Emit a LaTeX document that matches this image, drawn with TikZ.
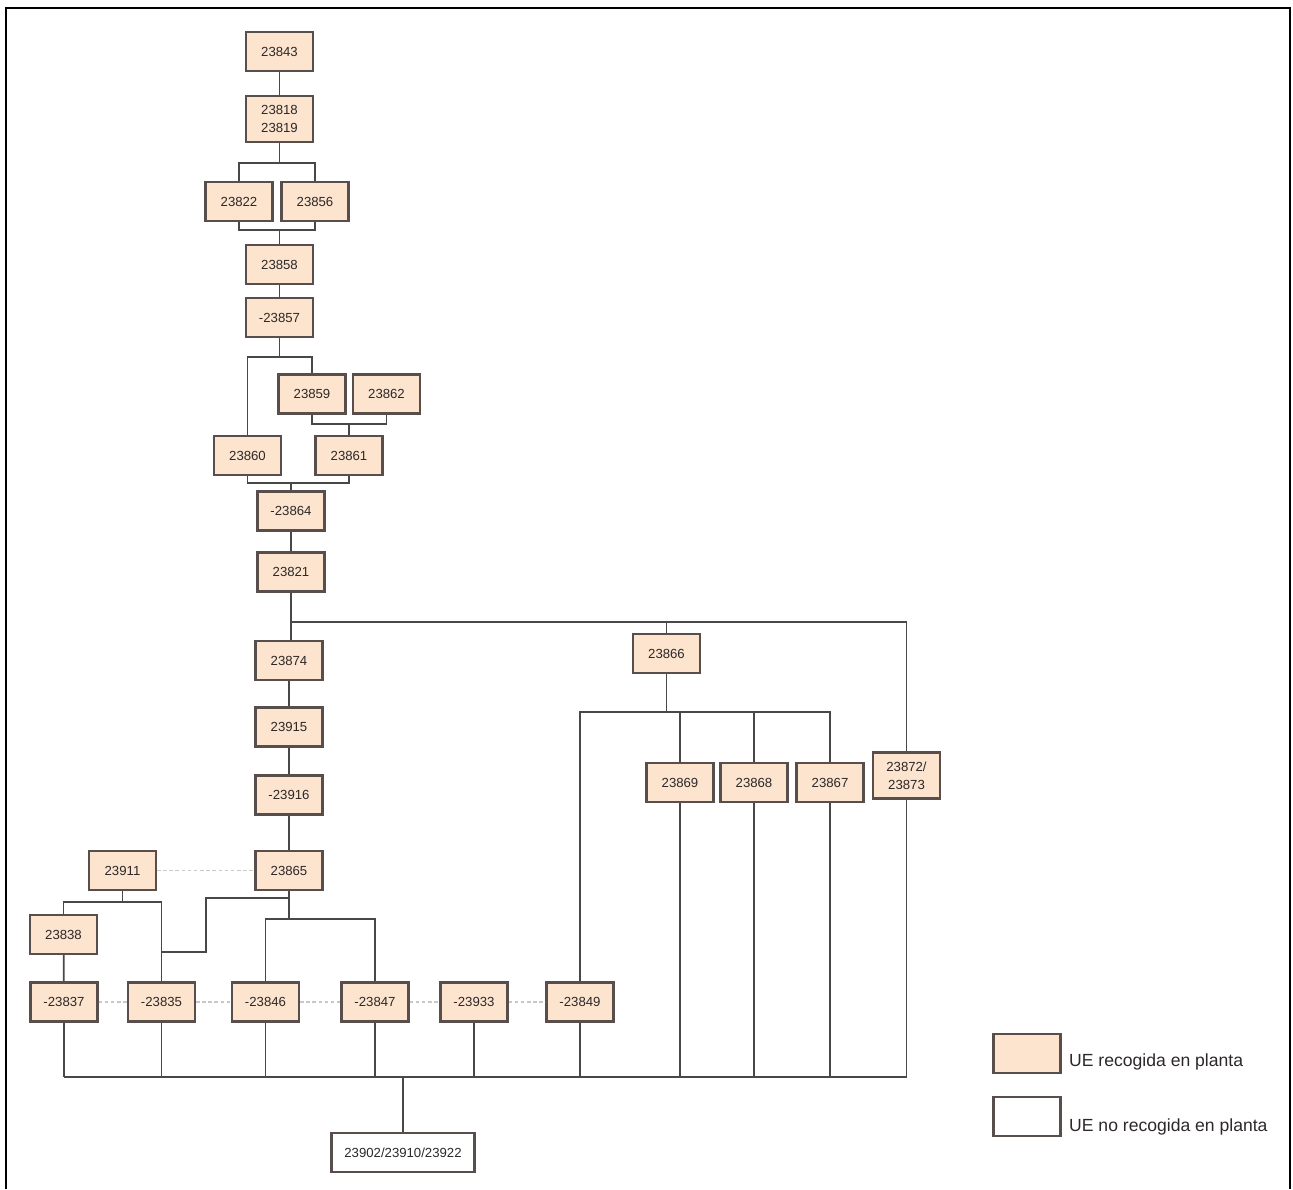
\documentclass[tikz,border=0pt]{standalone}
\usepackage{fontspec}
\setmainfont{Liberation Sans}
\begin{document}
\begin{tikzpicture}[x=0.02cm,y=-0.02cm,
  ue/.style={draw=boxline, line width=1.2pt, fill=uefill, text=txt,
    minimum width=1.34cm, minimum height=0.78cm, inner sep=0pt,
    align=center, font=\fontsize{7.5}{10}\selectfont},
  uetall/.style={ue, minimum height=0.92cm},
  uewhite/.style={ue, fill=white},
  link/.style={draw=linecol, line width=1pt},
  sameas/.style={draw=dotcol, line width=1pt, dash pattern=on 2pt off 1.5pt},
  legendtext/.style={anchor=west, text=txt, font=\fontsize{10}{12}\selectfont}
]
\definecolor{uefill}{RGB}{252,228,206}
\definecolor{boxline}{RGB}{88,78,76}
\definecolor{linecol}{RGB}{72,72,72}
\definecolor{dotcol}{RGB}{200,200,200}
\definecolor{txt}{RGB}{45,40,40}

\useasboundingbox (0,0) rectangle (1293,1189);
% outer frame
\draw[line width=1pt, black] (6,1189) -- (6,8) -- (1290,8) -- (1290,1189);

% upper column
\node[ue] (n23843) at (279.5,51.5) {23843};
\node[uetall] (n23818) at (279.5,119) {23818\\23819};
\node[ue] (n23822) at (239,201.5) {23822};
\node[ue] (n23856) at (315,201.5) {23856};
\node[ue] (n23858) at (279.5,264.5) {23858};
\node[ue] (n23857) at (279.5,317.5) {-23857};
\node[ue] (n23859) at (312,394) {23859};
\node[ue] (n23862) at (386.5,394) {23862};
\node[ue] (n23860) at (247.5,455.5) {23860};
\node[ue] (n23861) at (349,455.5) {23861};
\node[ue] (n23864) at (291,511) {-23864};
\node[ue] (n23821) at (291,572) {23821};

% lower column
\node[ue] (n23874) at (289,660.5) {23874};
\node[ue] (n23915) at (289,727) {23915};
\node[ue] (n23916) at (289,795) {-23916};
\node[ue] (n23865) at (289,870.5) {23865};
\node[ue] (n23911) at (122.5,870.5) {23911};
\node[ue] (n23838) at (63.5,934.5) {23838};

% right branch
\node[ue] (n23866) at (666.5,653.5) {23866};
\node[ue] (n23869) at (680,782.5) {23869};
\node[ue] (n23868) at (754,782.5) {23868};
\node[ue] (n23867) at (830,782.5) {23867};
\node[uetall] (n23872) at (906.5,775.5) {23872/\\23873};

% bottom row
\node[ue] (n23837) at (64,1002) {-23837};
\node[ue] (n23835) at (161.5,1002) {-23835};
\node[ue] (n23846) at (265.5,1002) {-23846};
\node[ue] (n23847) at (375,1002) {-23847};
\node[ue] (n23933) at (474,1002) {-23933};
\node[ue] (n23849) at (580,1002) {-23849};
\node[uewhite, minimum width=2.86cm] (n23902) at (403,1152.5) {23902/23910/23922};

% junction points
\coordinate (j1) at (279.5,163);
\coordinate (j2) at (279.5,230);
\coordinate (j3) at (279.5,357);
\coordinate (j4) at (349,424);
\coordinate (j5) at (291,483);
\coordinate (j6) at (291,622);
\coordinate (j7) at (906.5,622);
\coordinate (j8) at (666.5,712);
\coordinate (j9) at (122.5,902);
\coordinate (j10) at (289,898);
\coordinate (j11) at (289,919);
\coordinate (bus) at (403,1077);

% connectors, upper column
\draw[link] (n23843) -- (n23818);
\draw[link] (n23818.south) -- (j1);
\draw[link] (n23822.north) -- (n23822.north |- j1) -- (n23856.north |- j1) -- (n23856.north);
\draw[link] (n23822.south) -- (n23822.south |- j2) -- (n23856.south |- j2) -- (n23856.south);
\draw[link] (j2) -- (n23858.north);
\draw[link] (n23858) -- (n23857);
\draw[link] (n23857.south) -- (j3);
\draw[link] (n23860.north) -- (n23860.north |- j3) -- (n23859.north |- j3) -- (n23859.north);
\draw[link] (n23859.south) -- (n23859.south |- j4) -- (n23862.south |- j4) -- (n23862.south);
\draw[link] (j4) -- (n23861.north);
\draw[link] (n23860.south) -- (n23860.south |- j5) -- (n23861.south |- j5) -- (n23861.south);
\draw[link] (j5) -- (n23864.north);
\draw[link] (n23864) -- (n23821);

% main split below 23821
\draw[link] (n23821.south) -- (n23821.south |- n23874.north);
\draw[link] (j6) -- (j7) -- (n23872.north);
\draw[link] (n23866.north) -- (n23866.north |- j6);

% 23866 branch
\draw[link] (n23866.south) -- (j8);
\draw[link] (n23849.north) -- (n23849.north |- j8) -- (n23867.north |- j8) -- (n23867.north);
\draw[link] (n23869.north) -- (n23869.north |- j8);
\draw[link] (n23868.north) -- (n23868.north |- j8);

% lower column
\draw[link] (n23874) -- (n23915);
\draw[link] (n23915) -- (n23916);
\draw[link] (n23916) -- (n23865);

% 23911 branch
\draw[link] (n23911.south) -- (j9);
\draw[link] (n23838.north) -- (n23838.north |- j9) -- (n23835.north |- j9) -- (n23835.north);
\draw[link] (n23838) -- (n23837);

% 23865 branches
\draw[link] (n23865.south) -- (j11);
\draw[link] (j10) -- (206,898) -- (206,952) -- (n23835.north |- 0,952);
\draw[link] (n23846.north) -- (n23846.north |- j11) -- (n23847.north |- j11) -- (n23847.north);

% equivalence (dotted) links
\draw[sameas] (n23911) -- (n23865);
\draw[sameas] (n23837) -- (n23835);
\draw[sameas] (n23835) -- (n23846);
\draw[sameas] (n23846) -- (n23847);
\draw[sameas] (n23847) -- (n23933);
\draw[sameas] (n23933) -- (n23849);

% bottom bus
\draw[link] (n23837.south |- bus) -- (n23872.south |- bus);
\foreach \n in {n23837,n23835,n23846,n23847,n23933,n23849,n23869,n23868,n23867,n23872}
  \draw[link] (\n.south) -- (\n.south |- bus);
\draw[link] (bus) -- (n23902.north);

% legend
\node[ue] (legA) at (1027,1053.5) {};
\node[uewhite] (legB) at (1027,1116.5) {};
\node[legendtext] (legAtxt) at (1063,1062) {UE recogida en planta};
\node[legendtext] (legBtxt) at (1063,1127) {UE no recogida en planta};
\end{tikzpicture}
\end{document}
